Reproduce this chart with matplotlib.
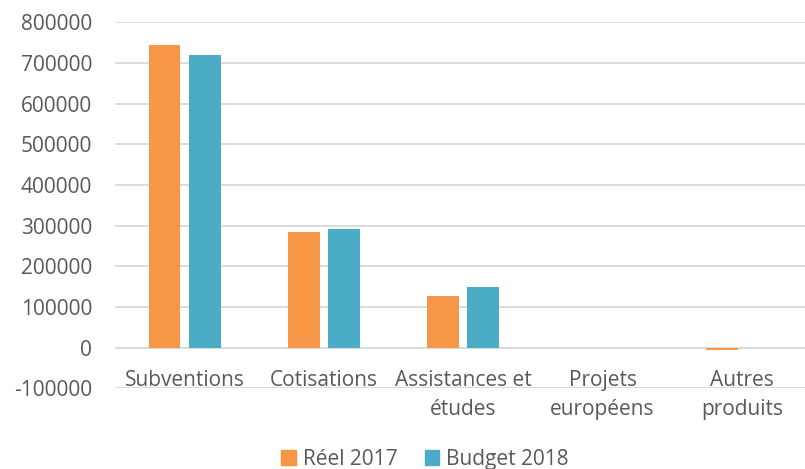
import matplotlib
matplotlib.use("Agg")
import matplotlib.pyplot as plt
import matplotlib.transforms as mtransforms
from matplotlib.patches import Patch
import numpy as np

categories = ["Subventions", "Cotisations", "Assistances et\nétudes", "Projets\neuropéens", "Autres\nproduits"]
reel_2017 = [744000, 284000, 126000, 0, -5000]
budget_2018 = [720000, 292000, 149000, 0, 0]
series_names = ["Réel 2017", "Budget 2018"]
yticks = [-100000, 0, 100000, 200000, 300000, 400000, 500000, 600000, 700000, 800000]

ORANGE = "#F79646"
TEAL = "#4BACC6"
TEXT = "#595959"
GRID = "#D9D9D9"

plt.rcParams['font.family'] = ['Open Sans', 'DejaVu Sans']

W, H = 805, 469
fig = plt.figure(figsize=(W / 100, H / 100), dpi=100)
left, right, top, bottom = 115, 811.5, 22.3, 388.4
ax = fig.add_axes([left / W, 1 - bottom / H, (right - left) / W, (bottom - top) / H])

x = np.arange(len(categories))
bw = 0.228
off = 0.144
ax.bar(x - off, reel_2017, width=bw, color=ORANGE, linewidth=0, zorder=3)
ax.bar(x + off, budget_2018, width=bw, color=TEAL, linewidth=0, zorder=3)

ax.set_xlim(-0.5, len(categories) - 0.5)
ax.set_ylim(yticks[0], yticks[-1])
ax.set_yticks(yticks)
ax.set_yticklabels([str(v) for v in yticks], fontsize=15, color=TEXT)
ax.tick_params(axis='y', length=0, pad=16.5)
ax.set_xticks([])
for v in yticks:
    ax.axhline(v, color=GRID, linewidth=1.3, zorder=1)
for s in ax.spines.values():
    s.set_visible(False)

trans = mtransforms.offset_copy(ax.transData, fig=fig, x=0, y=-22, units='dots')
for i, c in enumerate(categories):
    ax.text(i, 0, c, transform=trans, ha='center', va='top', fontsize=15,
            color=TEXT, linespacing=1.5, zorder=4)

handles = [Patch(color=ORANGE), Patch(color=TEAL)]
fig.legend(handles, series_names, loc='center', bbox_to_anchor=(425 / W, 1 - 459 / H),
           ncol=2, frameon=False, fontsize=15, labelcolor=TEXT,
           handlelength=0.7, handleheight=0.7, handletextpad=0.35, columnspacing=1.3)

fig.savefig("out.png", dpi=100)
